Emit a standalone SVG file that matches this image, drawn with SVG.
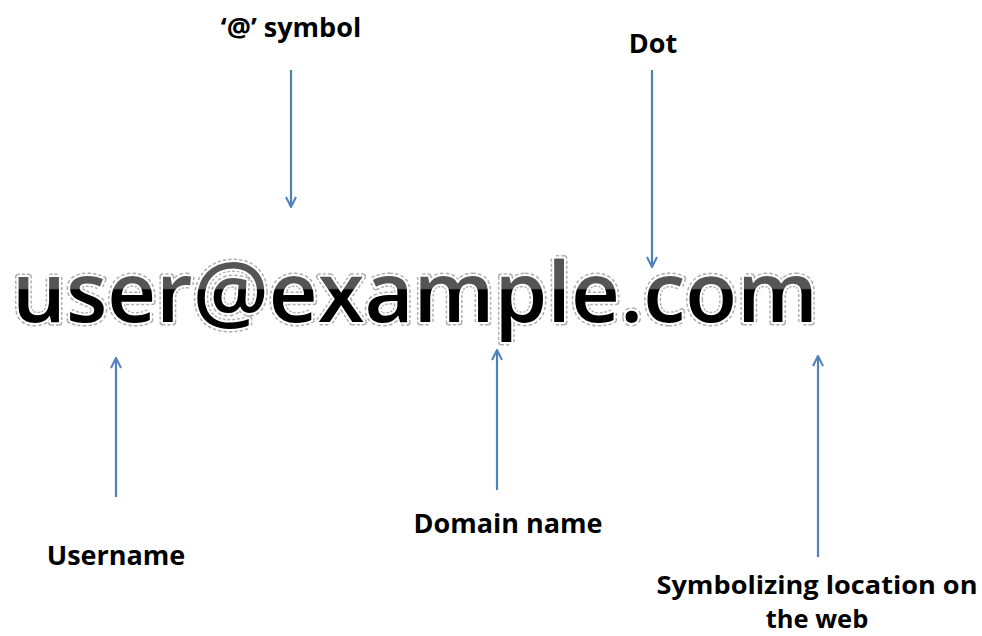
<svg xmlns="http://www.w3.org/2000/svg" width="982" height="636" viewBox="0 0 982 636">
<style>
.lbl{font-family:"Open Sans","Liberation Sans",sans-serif;font-weight:bold;font-size:27px;fill:#000;text-anchor:middle}
.sm{font-size:25.5px}
.big{font-family:"Open Sans","Liberation Sans",sans-serif;font-weight:600;font-size:84px}
.conn line{stroke:#4F81BD;stroke-width:2.2;fill:none}
</style>
<defs>
<linearGradient id="g" gradientUnits="userSpaceOnUse" x1="0" y1="250" x2="0" y2="330">
<stop offset="0" stop-color="#555"/>
<stop offset="0.48" stop-color="#555"/>
<stop offset="0.5" stop-color="#000"/>
<stop offset="1" stop-color="#000"/>
</linearGradient>
<marker id="ah" viewBox="0 0 12 12" refX="11" refY="6" markerWidth="12" markerHeight="12" markerUnits="userSpaceOnUse" orient="auto">
<path d="M1,1 L11,6 L1,11" fill="none" stroke="#4F81BD" stroke-width="2"/>
</marker>
</defs>
<rect width="982" height="636" fill="#fff"/>
<g id="email">
<text class="big" x="12" y="322" textLength="806" lengthAdjust="spacingAndGlyphs" fill="none" stroke="#b0b0b0" stroke-width="7" stroke-dasharray="3 2" stroke-linejoin="round">user@example.com</text>
<text class="big" x="12" y="322" textLength="806" lengthAdjust="spacingAndGlyphs" fill="none" stroke="#fff" stroke-width="4" stroke-linejoin="round">user@example.com</text>
<text class="big" x="12" y="322" textLength="806" lengthAdjust="spacingAndGlyphs" fill="url(#g)">user@example.com</text>
</g>
<g class="conn" id="connectors">
<line x1="291" y1="70" x2="291" y2="207" marker-end="url(#ah)"/>
<line x1="652" y1="70" x2="652" y2="267" marker-end="url(#ah)"/>
<line x1="116" y1="497" x2="116" y2="358" marker-end="url(#ah)"/>
<line x1="497" y1="490" x2="497" y2="350" marker-end="url(#ah)"/>
<line x1="818" y1="557" x2="818" y2="356" marker-end="url(#ah)"/>
</g>
<g id="at-label"><text class="lbl" x="291" y="37">‘@’ symbol</text></g>
<g id="dot-label"><text class="lbl" x="653" y="53">Dot</text></g>
<g id="username-label"><text class="lbl" x="116" y="565">Username</text></g>
<g id="domain-label"><text class="lbl" x="508" y="533">Domain name</text></g>
<g id="location-label"><text class="lbl sm" x="817" y="594" textLength="321" lengthAdjust="spacingAndGlyphs">Symbolizing location on</text><text class="lbl sm" x="817" y="628">the web</text></g>
</svg>
